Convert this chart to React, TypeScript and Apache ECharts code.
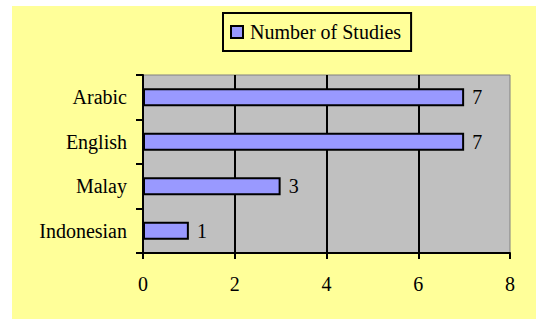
import React, { useEffect, useRef } from "react";
import * as echarts from "echarts";

const categories = ["Indonesian", "Malay", "English", "Arabic"];
const studies = [1, 3, 7, 7];
const seriesName = "Number of Studies";
const xTicks = { min: 0, max: 8, interval: 2 };

const FONT = "'Liberation Serif', 'Times New Roman', serif";

export default function App() {
  const ref = useRef<HTMLDivElement>(null);
  useEffect(() => {
    if (!ref.current) return;
    const chart = echarts.init(ref.current, undefined, { renderer: "svg" });
    chart.setOption({
      animation: false,
      backgroundColor: "#ffffff",
      graphic: [
        {
          type: "rect",
          z: -10,
          silent: true,
          shape: { x: 12, y: 6, width: 524, height: 313 },
          style: { fill: "#FFFF99" },
        },
      ],
      legend: {
        left: 223,
        top: 13,
        padding: [9, 10, 9, 7],
        borderColor: "#000",
        borderWidth: 2,
        itemWidth: 12,
        itemHeight: 12,
        itemGap: 5,
        icon: "rect",
        textStyle: { fontFamily: FONT, fontSize: 20, color: "#000", padding: [0, 0, 0, 2] },
        data: [{ name: seriesName, itemStyle: { borderColor: "#000", borderWidth: 2 } }],
      },
      grid: {
        left: 143,
        right: 26,
        top: 75,
        bottom: 66,
        show: true,
        backgroundColor: "#C0C0C0",
        borderColor: "#808080",
        borderWidth: 1,
      },
      xAxis: {
        type: "value",
        min: xTicks.min,
        max: xTicks.max,
        interval: xTicks.interval,
        axisLine: { show: true, lineStyle: { color: "#000", width: 2 } },
        axisTick: { show: true, length: 6, lineStyle: { color: "#000", width: 2 } },
        axisLabel: { fontFamily: FONT, fontSize: 20, color: "#000", margin: 21 },
        splitLine: {
          show: true,
          showMinLine: false,
          showMaxLine: false,
          lineStyle: { color: "#000", width: 2 },
        },
      },
      yAxis: {
        type: "category",
        data: categories,
        axisLine: { show: true, lineStyle: { color: "#000", width: 2 } },
        axisTick: { show: true, length: 7, lineStyle: { color: "#000", width: 2 } },
        axisLabel: { fontFamily: FONT, fontSize: 20, color: "#000", margin: 16 },
        splitLine: { show: false },
      },
      series: [
        {
          name: seriesName,
          type: "bar",
          data: studies,
          barWidth: 18,
          itemStyle: { color: "#9999FF", borderColor: "#000", borderWidth: 2 },
          label: {
            show: true,
            position: "right",
            distance: 8,
            fontFamily: FONT,
            fontSize: 20,
            color: "#000",
          },
        },
      ],
    });
    return () => chart.dispose();
  }, []);
  return (
    <div
      ref={ref}
      style={{ position: "fixed", left: 0, top: 0, width: 536, height: 319 }}
    />
  );
}
